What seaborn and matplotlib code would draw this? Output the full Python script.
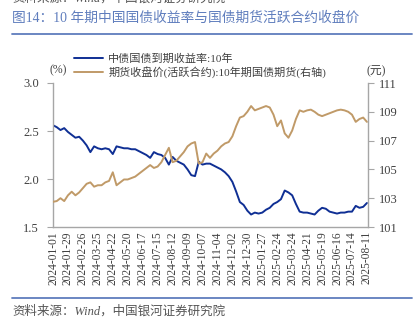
import numpy as np
import pandas as pd
import matplotlib
matplotlib.use("Agg")
import matplotlib.pyplot as plt
import matplotlib.dates as mdates
from matplotlib.lines import Line2D
import seaborn as sns

# ---------------- data (weekly readings, Mondays) ----------------
start_date = "2024-01-01"
n_weeks = 85
yield_10y = [
    2.56, 2.54, 2.51, 2.53, 2.49, 2.46, 2.43, 2.44, 2.40, 2.35,
    2.28, 2.34, 2.32, 2.31, 2.32, 2.31, 2.26, 2.34, 2.33, 2.32,
    2.32, 2.31, 2.31, 2.29, 2.27, 2.25, 2.22, 2.28, 2.26, 2.25,
    2.22, 2.15, 2.23, 2.19, 2.17, 2.15, 2.10, 2.04, 2.03, 2.18,
    2.15, 2.16, 2.16, 2.14, 2.12, 2.10, 2.07, 2.03, 1.97, 1.87,
    1.76, 1.73, 1.67, 1.63, 1.65, 1.64, 1.65, 1.68, 1.70, 1.74,
    1.76, 1.79, 1.88, 1.86, 1.83, 1.74, 1.66, 1.65, 1.65, 1.64,
    1.63, 1.67, 1.70, 1.69, 1.66, 1.65, 1.64, 1.65, 1.65, 1.66,
    1.66, 1.72, 1.70, 1.71, 1.75,
]
futures_close = [
    102.75, 102.8, 103.0, 102.8, 103.2, 103.45, 103.2, 103.4, 103.7, 104.0,
    104.1, 103.8, 103.9, 103.9, 104.1, 104.2, 104.8, 103.9, 104.1, 104.3,
    104.3, 104.4, 104.5, 104.7, 104.9, 105.1, 105.3, 105.1, 105.2, 105.5,
    106.0, 106.5, 105.5, 105.6, 105.9, 106.2, 106.6, 106.8, 106.9, 105.4,
    105.5, 106.1, 105.8, 106.1, 106.3, 106.6, 106.8, 106.9, 107.3, 108.0,
    108.6, 108.7, 109.0, 109.4, 109.1, 109.2, 109.3, 109.4, 109.3, 108.8,
    108.0, 108.4, 107.5, 107.2, 107.7, 108.5, 109.1, 109.0, 109.1, 109.15,
    109.0, 108.8, 108.7, 108.8, 108.9, 109.0, 109.1, 109.15, 109.1, 109.0,
    108.8, 108.3, 108.5, 108.6, 108.3,
]
label_yield = "中债国债到期收益率:10年"
label_fut = "期货收盘价(活跃合约):10年期国债期货(右轴)"
title_text = "图14：10 年期中国国债收益率与国债期货活跃合约收盘价"
source_text = "资料来源：Wind，中国银河证券研究院"
left_ticks = [1.5, 2.0, 2.5, 3.0]
right_ticks = [101, 103, 105, 107, 109, 111]

dates = pd.date_range(start_date, periods=n_weeks, freq="7D")
df = pd.DataFrame({"date": dates, "yield": yield_10y, "fut": futures_close})

# ---------------- style ----------------
sns.set_style("white")
serif_cjk = ["Liberation Serif", "Noto Sans CJK SC"]
plt.rcParams["font.family"] = serif_cjk

BLUE = "#0f2f94"
GOLD = "#c09a68"
SPINE = "#a6a6a6"
TITLE_C = "#5f7dbd"
TXT = "#404040"

W, H = 414, 325
fig = plt.figure(figsize=(W / 100, H / 100), dpi=100)
ax = fig.add_axes([53 / W, 1 - 227 / H, (368 - 53) / W, (227 - 83) / H])
ax2 = ax.twinx()

sns.lineplot(data=df, x="date", y="yield", ax=ax, color=BLUE, lw=1.4, legend=False)
sns.lineplot(data=df, x="date", y="fut", ax=ax2, color=GOLD, lw=1.4, legend=False)

ax.set_ylim(1.5, 3.0)
ax2.set_ylim(101, 111)
ax.set_yticks(left_ticks)
ax.set_yticklabels([f"{v:.1f}" for v in left_ticks])
ax2.set_yticks(right_ticks)
ax2.set_yticklabels([str(v) for v in right_ticks])

xt = pd.date_range(start_date, periods=22, freq="28D")
ax.set_xlim(pd.Timestamp("2024-01-01"), pd.Timestamp("2025-08-13"))
ax.set_xticks(xt)
ax.set_xticklabels([d.strftime("%Y-%m-%d") for d in xt], rotation=90)
ax.set_xlabel("")
ax.set_ylabel("")
ax2.set_ylabel("")

for a in (ax, ax2):
    a.spines["top"].set_visible(False)
    for s in ("left", "right", "bottom"):
        a.spines[s].set_color(SPINE)
        a.spines[s].set_linewidth(1.0)
ax.spines["right"].set_visible(False)
ax2.spines["left"].set_visible(False)
ax2.spines["bottom"].set_visible(False)

ax.tick_params(axis="y", direction="out", length=4, color=SPINE, labelsize=9, labelcolor=TXT, pad=6)
ax2.tick_params(axis="y", direction="out", length=4, color=SPINE, labelsize=9, labelcolor=TXT, pad=4)
ax.tick_params(axis="x", direction="in", length=4, color=SPINE, labelsize=8.3, labelcolor=TXT, pad=3)

# unit labels
fig.text(58 / W, 1 - 70 / H, "(%)", fontsize=8.5, color=TXT, ha="center", va="center")
fig.text(376 / W, 1 - 70 / H, "(元)", fontsize=8.5, color=TXT, ha="center", va="center")

# legend
handles = [Line2D([], [], color=BLUE, lw=1.4), Line2D([], [], color=GOLD, lw=1.4)]
leg = fig.legend(handles, [label_yield, label_fut], loc="upper left",
                 bbox_to_anchor=(74 / W, 1 - 53 / H), frameon=False,
                 fontsize=8, handlelength=2.6, handletextpad=0.5,
                 labelspacing=0.25, borderaxespad=0, borderpad=0)
for t in leg.get_texts():
    t.set_color(TXT)

# title & decorations
fig.text(12 / W, 1 + 2 / H, source_text, fontsize=9, color="#555555",
         style="italic", ha="left", va="center")
fig.text(12 / W, 1 - 18 / H, title_text, fontsize=9.9, color=TITLE_C,
         ha="left", va="center")
fig.add_artist(Line2D([12 / W, 412 / W], [1 - 34 / H, 1 - 34 / H],
                      color=TITLE_C, lw=1.3, transform=fig.transFigure))
fig.add_artist(Line2D([12 / W, 412 / W], [1 - 298 / H, 1 - 298 / H],
                      color=TITLE_C, lw=1.3, transform=fig.transFigure))
fig.text(12 / W, 1 - 311 / H, source_text, fontsize=9, color="#555555",
         style="italic", ha="left", va="center")

fig.savefig("out.png", dpi=100)
